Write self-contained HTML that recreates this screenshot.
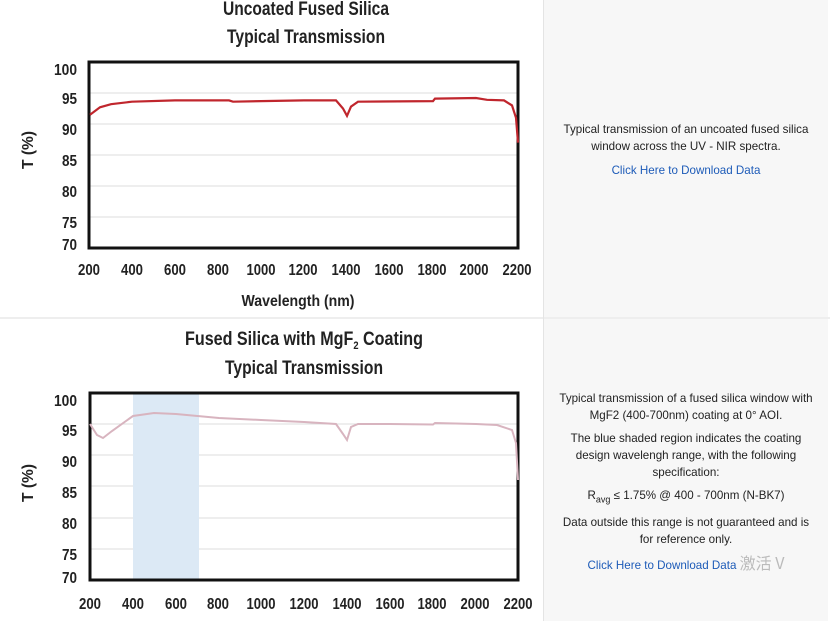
<!DOCTYPE html>
<html><head><meta charset="utf-8"><style>
body{margin:0;width:830px;height:621px;overflow:hidden;background:#fff;font-family:"Liberation Sans",sans-serif}
.c{font-family:"Liberation Sans",sans-serif;font-weight:bold;fill:#222}
.r{position:absolute;left:544px;width:284px;background:#f7f7f7;text-align:center;font-size:11.6px;color:#222;line-height:17px}
.r p{margin:0 12px 6px}
a{color:#1d5bb8;text-decoration:none}
</style></head><body>
<div class="r" style="top:0;height:317px"><div style="padding-top:121px"><p>Typical transmission of an uncoated fused silica window across the UV - NIR spectra.</p><p style="margin-top:7px"><a>Click Here to Download Data</a></p></div></div>
<div class="r" style="top:319px;height:302px"><div style="padding-top:71px"><p>Typical transmission of a fused silica window with MgF2 (400-700nm) coating at 0° AOI.</p><p>The blue shaded region indicates the coating design wavelengh range, with the following specification:</p><p>R<sub style="font-size:9px">avg</sub> ≤ 1.75% @ 400 - 700nm (N-BK7)</p><p>Data outside this range is not guaranteed and is for reference only.</p><p><a>Click Here to Download Data</a> <span style="color:#bbb;font-size:16px;font-family:'Noto Sans CJK SC',sans-serif">激活 V</span></p></div></div>
<svg width="830" height="621" style="position:absolute;left:0;top:0">
<line x1="0" y1="318" x2="830" y2="318" stroke="#ddd"/>
<line x1="543.5" y1="0" x2="543.5" y2="621" stroke="#e4e4e4"/>
<g class="c" font-size="19" text-anchor="middle">
<text x="306" y="15" textLength="166" lengthAdjust="spacingAndGlyphs">Uncoated Fused Silica</text><text x="306" y="43" textLength="158" lengthAdjust="spacingAndGlyphs">Typical Transmission</text>
<text x="304" y="345" textLength="238" lengthAdjust="spacingAndGlyphs">Fused Silica with MgF<tspan font-size="11" dy="4">2</tspan><tspan dy="-4"> Coating</tspan></text><text x="304" y="374" textLength="158" lengthAdjust="spacingAndGlyphs">Typical Transmission</text>
</g>
<g stroke="#ddd" stroke-width="1">
<line x1="89" x2="518" y1="93" y2="93"/><line x1="89" x2="518" y1="124" y2="124"/><line x1="89" x2="518" y1="155" y2="155"/><line x1="89" x2="518" y1="186" y2="186"/><line x1="89" x2="518" y1="217" y2="217"/>
<line x1="90" x2="518" y1="424" y2="424"/><line x1="90" x2="518" y1="455" y2="455"/><line x1="90" x2="518" y1="486" y2="486"/><line x1="90" x2="518" y1="518" y2="518"/><line x1="90" x2="518" y1="549" y2="549"/>
</g>
<rect x="133" y="394" width="66" height="185" fill="#dce9f5"/>
<rect x="89" y="62" width="429" height="186" fill="none" stroke="#111" stroke-width="3"/>
<rect x="90" y="393" width="428" height="187" fill="none" stroke="#111" stroke-width="3"/>
<polyline fill="none" stroke="#c0262d" stroke-width="2.2" points="90,114.7 100,107.3 111,104.2 132,101.7 175,100.4 229,100.4 233,101.7 261,101.1 304,100.4 336,100.4 343,108.5 347,115.9 351,106.6 358,101.7 433,101.1 435,98.6 476,98.0 487,99.8 504,100.4 512,105.4 516,117.8 518,142.6"/>
<polyline fill="none" stroke="#d8b4bf" stroke-width="2" points="90,424 97,435 103,438 112,431 133,416 154,413 176,414 219,418 261,420 304,422 336,424 343,434 347,440 351,427 358,424 390,424 433,424.5 435,423 476,424 497,425 512,430 516,443 518,480"/>
<g class="c" font-size="16" text-anchor="end">
<text x="77" y="75" textLength="23" lengthAdjust="spacingAndGlyphs">100</text><text x="77" y="104" textLength="15" lengthAdjust="spacingAndGlyphs">95</text><text x="77" y="135" textLength="15" lengthAdjust="spacingAndGlyphs">90</text><text x="77" y="166" textLength="15" lengthAdjust="spacingAndGlyphs">85</text><text x="77" y="197" textLength="15" lengthAdjust="spacingAndGlyphs">80</text><text x="77" y="228" textLength="15" lengthAdjust="spacingAndGlyphs">75</text><text x="77" y="250" textLength="15" lengthAdjust="spacingAndGlyphs">70</text>
<text x="77" y="406" textLength="23" lengthAdjust="spacingAndGlyphs">100</text><text x="77" y="436" textLength="15" lengthAdjust="spacingAndGlyphs">95</text><text x="77" y="467" textLength="15" lengthAdjust="spacingAndGlyphs">90</text><text x="77" y="498" textLength="15" lengthAdjust="spacingAndGlyphs">85</text><text x="77" y="529" textLength="15" lengthAdjust="spacingAndGlyphs">80</text><text x="77" y="560" textLength="15" lengthAdjust="spacingAndGlyphs">75</text><text x="77" y="583" textLength="15" lengthAdjust="spacingAndGlyphs">70</text>
</g>
<g class="c" font-size="16" text-anchor="middle">
<text x="89" y="275" textLength="22" lengthAdjust="spacingAndGlyphs">200</text><text x="132" y="275" textLength="22" lengthAdjust="spacingAndGlyphs">400</text><text x="175" y="275" textLength="22" lengthAdjust="spacingAndGlyphs">600</text><text x="218" y="275" textLength="22" lengthAdjust="spacingAndGlyphs">800</text><text x="261" y="275" textLength="29" lengthAdjust="spacingAndGlyphs">1000</text><text x="303" y="275" textLength="29" lengthAdjust="spacingAndGlyphs">1200</text><text x="346" y="275" textLength="29" lengthAdjust="spacingAndGlyphs">1400</text><text x="389" y="275" textLength="29" lengthAdjust="spacingAndGlyphs">1600</text><text x="432" y="275" textLength="29" lengthAdjust="spacingAndGlyphs">1800</text><text x="474" y="275" textLength="29" lengthAdjust="spacingAndGlyphs">2000</text><text x="517" y="275" textLength="29" lengthAdjust="spacingAndGlyphs">2200</text>
<text x="90" y="609" textLength="22" lengthAdjust="spacingAndGlyphs">200</text><text x="133" y="609" textLength="22" lengthAdjust="spacingAndGlyphs">400</text><text x="176" y="609" textLength="22" lengthAdjust="spacingAndGlyphs">600</text><text x="218" y="609" textLength="22" lengthAdjust="spacingAndGlyphs">800</text><text x="261" y="609" textLength="29" lengthAdjust="spacingAndGlyphs">1000</text><text x="304" y="609" textLength="29" lengthAdjust="spacingAndGlyphs">1200</text><text x="347" y="609" textLength="29" lengthAdjust="spacingAndGlyphs">1400</text><text x="390" y="609" textLength="29" lengthAdjust="spacingAndGlyphs">1600</text><text x="432" y="609" textLength="29" lengthAdjust="spacingAndGlyphs">1800</text><text x="475" y="609" textLength="29" lengthAdjust="spacingAndGlyphs">2000</text><text x="518" y="609" textLength="29" lengthAdjust="spacingAndGlyphs">2200</text>
<text x="298" y="306" textLength="113" lengthAdjust="spacingAndGlyphs">Wavelength (nm)</text>
<text transform="translate(33,150) rotate(-90)" textLength="38" lengthAdjust="spacingAndGlyphs">T (%)</text>
<text transform="translate(33,483) rotate(-90)" textLength="38" lengthAdjust="spacingAndGlyphs">T (%)</text>
</g>
</svg>
</body></html>
